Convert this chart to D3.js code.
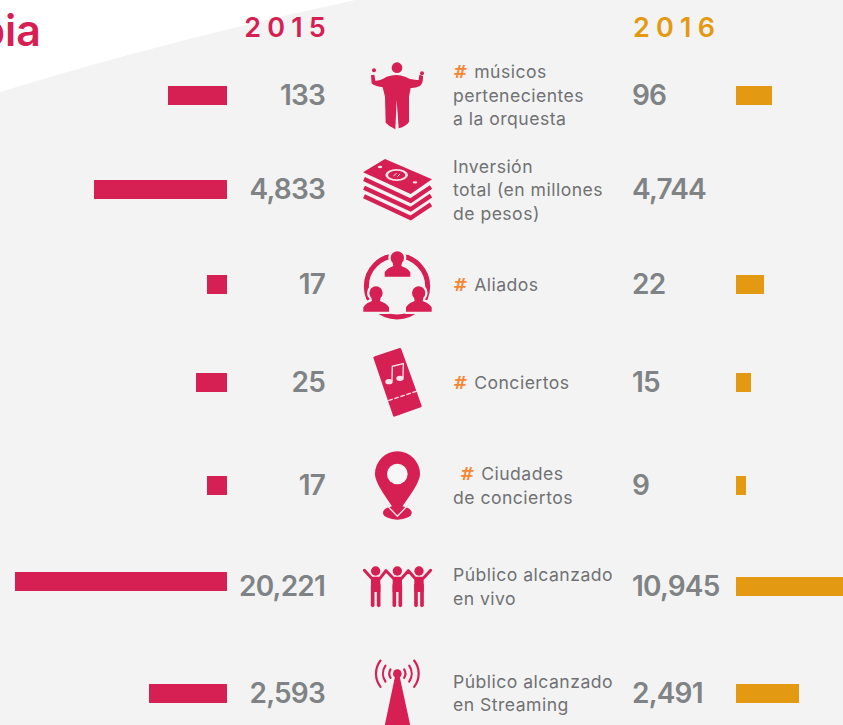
<!DOCTYPE html>
<html><head><meta charset="utf-8">
<style>html,body{margin:0;padding:0;background:#f3f3f3}svg{display:block}
text{font-family:Inter,"Noto Sans",sans-serif}</style>
<script src="https://cdn.jsdelivr.net/npm/d3@7/dist/d3.min.js"></script></head><body>
<script>
const categories = ["musicos","inversion","aliados","conciertos","ciudades","vivo","streaming"];
const values2015 = [133,4833,17,25,17,20221,2593];
const values2016 = [96,4744,22,15,9,10945,2491];
const labelLines = [
  ["# músicos","pertenecientes","a la orquesta"],
  ["Inversión","total (en millones","de pesos)"],
  ["# Aliados"],
  ["# Conciertos"],
  ["# Ciudades","de conciertos"],
  ["Público alcanzado","en vivo"],
  ["Público alcanzado","en Streaming"]
];
const years = ["2015","2016"];
const titleFragment = "bia";
// The 4,744 bar is absent in the source graphic.
const hiddenBars2016 = ["inversion"];

const W=843,H=725, CRIMSON="#d61f53", AMBER="#e39a12", GREY="#7f8385", LABEL="#707173", BG="#f3f3f3";
const svg=d3.select("body").append("svg").attr("width",W).attr("height",H);
svg.append("rect").attr("width",W).attr("height",H).attr("fill",BG);
svg.append("path").attr("d","M0,-1 L0,92 Q170,40 360,-1 Z").attr("fill","#fff");

// Bars in the source are not linear in the value: a piecewise scale built on the read lengths.
const lenDomain=[0,9,15,17,22,25,96,133,2491,2593,4833,10945,20221];
const lenRange =[0,10,15,20,28,31,36,59,63,78,133,170,212];
const len=d3.scaleLinear().domain(lenDomain).range(lenRange);
const rowY=d3.scaleOrdinal().domain(categories).range([95.5,189.5,284.5,382.5,485.5,586.5,693.5]);
const rowY15=d3.scaleOrdinal().domain(categories).range([95.5,189.5,284.5,382.5,485.5,581.5,693.5]);
const BAR_H=19, AXIS15=227, AXIS16=736;
const fmt=d3.format(",");

// year headers
svg.selectAll(".yr").data(years).join("text").attr("class","yr")
  .text(d=>d).attr("x",(d,i)=>i?633:332).attr("y",37)
  .attr("text-anchor",(d,i)=>i?"start":"end")
  .attr("font-size",27).attr("font-weight",600).attr("letter-spacing",6.2)
  .attr("fill",(d,i)=>i?AMBER:CRIMSON);
svg.append("text").text(titleFragment).attr("x",41).attr("y",46).attr("text-anchor","end")
  .attr("font-size",43).attr("font-weight",600).attr("fill",CRIMSON);

// bars
svg.selectAll(".b15").data(categories).join("rect").attr("class","b15")
  .attr("x",(c,i)=>AXIS15-len(values2015[i])).attr("y",c=>rowY15(c)-BAR_H/2)
  .attr("width",(c,i)=>len(values2015[i])).attr("height",BAR_H).attr("fill",CRIMSON);
svg.selectAll(".b16").data(categories.filter(c=>!hiddenBars2016.includes(c))).join("rect").attr("class","b16")
  .attr("x",AXIS16).attr("y",c=>rowY(c)-BAR_H/2)
  .attr("width",c=>len(values2016[categories.indexOf(c)])).attr("height",BAR_H).attr("fill",AMBER);

// values
const numAttrs=s=>s.attr("y",c=>rowY(c)+9.5).attr("font-size",28).attr("font-weight",600).attr("fill",GREY).attr("letter-spacing",-0.8);
svg.selectAll(".v15").data(categories).join("text").attr("class","v15").call(numAttrs)
  .attr("x",325).attr("text-anchor","end").text((c,i)=>fmt(values2015[i]));
svg.selectAll(".v16").data(categories).join("text").attr("class","v16").call(numAttrs)
  .attr("x",632).text((c,i)=>fmt(values2016[i]));

// labels
const firstBaseline=[78.3,172.7,290.7,389,480,581,687.7];
categories.forEach((c,i)=>{
  const t=svg.append("text").attr("font-size",17.6).attr("fill",LABEL).attr("letter-spacing",0.47);
  labelLines[i].forEach((line,j)=>{
    const ts=t.append("tspan").attr("x",c==="ciudades"&&j===0?460:453).attr("y",firstBaseline[i]+j*23.5);
    if(line.startsWith("# ")){
      ts.append("tspan").attr("fill","#f58634").attr("font-family","DejaVu Sans").attr("font-weight",700).attr("letter-spacing",1).text("#");
      ts.append("tspan").text(line.slice(1));
    } else ts.text(line);
  });
});

// icons, drawn in 3x coordinates
const PALE="#f7e4ea";
const icon=(x,y)=>svg.append("g").attr("transform",`translate(${x},${y}) scale(${1/3})`).attr("fill",CRIMSON);
// conductor
let g=icon(340,50);
g.append("circle").attr("cx",171).attr("cy",53).attr("r",16);
g.append("circle").attr("cx",102).attr("cy",61).attr("r",6);
g.append("circle").attr("cx",246).attr("cy",70).attr("r",6);
g.append("path").attr("d","M93,76 L103,74 L106,92 Q122,92 140,80 Q170,70 195,80 Q215,92 236,90 L238,74 L249,78 Q250,100 240,108 Q225,115 212,114 L207,140 L207,215 Q200,228 176,235 L170,150 L166,238 Q148,230 137,218 L135,140 L128,112 Q100,108 95,100 Z");
// money
g=icon(340,50);
[504,478,452].forEach(t=>g.append("path").attr("d",`M72,${t-65} L212,${t} L273,${t-41}`).attr("fill","none").attr("stroke",CRIMSON).attr("stroke-width",13));
g.append("path").attr("d","M135,327 L276,388 L212,432 L69,367 Z");
g.append("ellipse").attr("cx",170).attr("cy",375).attr("rx",34).attr("ry",18).attr("fill",PALE);
g.append("ellipse").attr("cx",170).attr("cy",375).attr("rx",26).attr("ry",13);
g.append("ellipse").attr("cx",120).attr("cy",351).attr("rx",7).attr("ry",3.5).attr("fill",PALE);
g.append("ellipse").attr("cx",225).attr("cy",397).attr("rx",7).attr("ry",3.5).attr("fill",PALE);
g.append("path").attr("d","M160,378 L170,370 M172,380 L180,372").attr("stroke",PALE).attr("stroke-width",3);
// allies
g=icon(340,50);
g.append("circle").attr("cx",171).attr("cy",709).attr("r",92).attr("fill","none").attr("stroke",CRIMSON).attr("stroke-width",15);
const person=(cx,top)=>{
  g.append("path").attr("d",`M${cx-38},${top+58} L${cx-38},${top+45} Q${cx-30},${top+32} ${cx-12},${top+26} L${cx-14},${top+16} A20,20 0 1 1 ${cx+14},${top+16} L${cx+12},${top+26} Q${cx+30},${top+32} ${cx+39},${top+45} L${cx+39},${top+58} Z`)
   .attr("stroke",BG).attr("stroke-width",14).attr("stroke-linejoin","round").attr("paint-order","stroke");
};
person(172,622);person(108,727);person(236,727);
// ticket
g=icon(340,335);
g.append("path").attr("d","M104,68 L180,43 L241,213 L163,241 Z").attr("stroke",CRIMSON).attr("stroke-width",8).attr("stroke-linejoin","round");
g.append("path").attr("d","M145,197 L232,168").attr("stroke",PALE).attr("stroke-width",4).attr("stroke-dasharray","14,5");
g.append("ellipse").attr("cx",147).attr("cy",140).attr("rx",11).attr("ry",8).attr("fill",PALE);
g.append("ellipse").attr("cx",180).attr("cy",130).attr("rx",11).attr("ry",8).attr("fill",PALE);
g.append("path").attr("d","M156,138 L157,94 L190,86 L189,128").attr("fill","none").attr("stroke",PALE).attr("stroke-width",4);
// pin
g=icon(340,335);
g.append("ellipse").attr("cx",172).attr("cy",533).attr("rx",43).attr("ry",21);
g.append("path").attr("d","M135,505 L172,544 L209,505").attr("fill","none").attr("stroke",PALE).attr("stroke-width",4);
g.append("path").attr("d","M172,349 A68,68 0 0 1 240,417 C240,445 200,495 172,537 C144,495 105,445 105,417 A67,68 0 0 1 172,349 Z");
g.append("circle").attr("cx",172).attr("cy",417).attr("r",31).attr("fill","#f7f7f7");
// audience
g=icon(340,335);
[107,172,237].forEach(x=>{
  g.append("circle").attr("cx",x).attr("cy",708).attr("r",14);
  g.append("rect").attr("x",x-14).attr("y",726).attr("width",28).attr("height",45);
  [-9,9].forEach(o=>g.append("path").attr("d",`M${x+o},750 L${x+o},811`).attr("stroke",CRIMSON).attr("stroke-width",11).attr("stroke-linecap","round"));
});
g.append("path").attr("d","M73,706 L95,730 L120,730 L138,707 L160,730 L185,730 L205,707 L225,730 L250,730 L272,706")
  .attr("fill","none").attr("stroke",CRIMSON).attr("stroke-width",9).attr("stroke-linecap","round").attr("stroke-linejoin","round");
// antenna
g=icon(340,335);
g.append("path").attr("d","M166,1020 L178,1020 L211,1172 L134,1172 Z");
g.append("circle").attr("cx",172).attr("cy",1016).attr("r",13);
[[24,32],[43,34],[64,38]].forEach(([r,deg])=>[-1,1].forEach(s=>{
  const a=deg*Math.PI/180,dx=r*Math.cos(a),dy=r*Math.sin(a);
  g.append("path").attr("d",`M${172+s*dx},${1016-dy} A${r},${r} 0 0 ${s>0?1:0} ${172+s*dx},${1016+dy}`)
   .attr("fill","none").attr("stroke",CRIMSON).attr("stroke-width",6.5).attr("stroke-linecap","round");
}));
</script></body></html>
